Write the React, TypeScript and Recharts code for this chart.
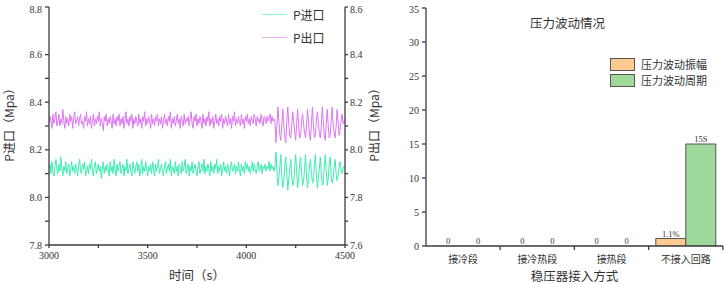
import React from 'react';
import { LineChart, Line, XAxis, YAxis, Legend, BarChart, Bar, Cell, LabelList, Label } from 'recharts';

const SERIF = "'Liberation Serif', 'Noto Sans CJK SC', serif";
const CJK = "'Noto Sans CJK SC', sans-serif";
const AXIS = '#3c3c3c';

// 压力曲线：3000 s 起，每 5 s 一个点
const T_START = 3000;
const T_STEP = 5;

const pIn = [
  8.12, 8.14, 8.10, 8.15, 8.11, 8.09, 8.13, 8.16, 8.12, 8.10,
  8.14, 8.11, 8.17, 8.12, 8.09, 8.13, 8.11, 8.15, 8.10, 8.12,
  8.14, 8.09, 8.12, 8.15, 8.11, 8.13, 8.10, 8.14, 8.12, 8.09,
  8.13, 8.16, 8.11, 8.10, 8.14, 8.12, 8.15, 8.09, 8.11, 8.13,
  8.10, 8.14, 8.12, 8.16, 8.11, 8.09, 8.13, 8.15, 8.10, 8.12,
  8.14, 8.11, 8.13, 8.08, 8.12, 8.15, 8.10, 8.13, 8.11, 8.14,
  8.12, 8.09, 8.15, 8.11, 8.13, 8.10, 8.16, 8.12, 8.09, 8.14,
  8.11, 8.13, 8.15, 8.10, 8.12, 8.14, 8.09, 8.13, 8.11, 8.16,
  8.10, 8.12, 8.14, 8.11, 8.09, 8.15, 8.12, 8.10, 8.13, 8.15,
  8.11, 8.14, 8.09, 8.12, 8.16, 8.10, 8.13, 8.11, 8.15, 8.12,
  8.09, 8.13, 8.11, 8.14, 8.10, 8.15, 8.12, 8.09, 8.14, 8.11,
  8.13, 8.16, 8.10, 8.12, 8.14, 8.11, 8.09, 8.13, 8.15, 8.10,
  8.12, 8.14, 8.11, 8.16, 8.09, 8.13, 8.12, 8.10, 8.15, 8.11,
  8.13, 8.09, 8.14, 8.12, 8.10, 8.15, 8.11, 8.13, 8.16, 8.10,
  8.12, 8.14, 8.09, 8.13, 8.11, 8.15, 8.10, 8.12, 8.14, 8.11,
  8.09, 8.13, 8.15, 8.10, 8.12, 8.14, 8.11, 8.16, 8.10, 8.13,
  8.11, 8.14, 8.12, 8.09, 8.15, 8.11, 8.13, 8.10, 8.14, 8.12,
  8.16, 8.10, 8.13, 8.11, 8.14, 8.09, 8.12, 8.15, 8.11, 8.13,
  8.10, 8.14, 8.12, 8.09, 8.13, 8.15, 8.11, 8.12, 8.14, 8.10,
  8.13, 8.11, 8.15, 8.12, 8.09, 8.14, 8.11, 8.13, 8.10, 8.15,
  8.12, 8.14, 8.11, 8.13, 8.10, 8.12, 8.15, 8.11, 8.14, 8.12,
  8.10, 8.13, 8.15, 8.11, 8.12, 8.14, 8.10, 8.13, 8.12, 8.14,
  8.11, 8.13, 8.12, 8.15, 8.11, 8.14, 8.12, 8.13, 8.11, 8.13,
  // 4150 s 之后波动变大
  8.19, 8.11, 8.05, 8.08, 8.13,
  8.18, 8.09, 8.04, 8.07, 8.14,
  8.17, 8.10, 8.03, 8.08, 8.12,
  8.16, 8.09, 8.05, 8.06, 8.13,
  8.18, 8.11, 8.04, 8.08, 8.14,
  8.17, 8.10, 8.05, 8.07, 8.12,
  8.18, 8.09, 8.04, 8.08, 8.13,
  8.16, 8.10, 8.06, 8.07, 8.14,
  8.18, 8.09, 8.04, 8.08, 8.12,
  8.17, 8.10, 8.05, 8.06, 8.13,
  8.18, 8.11, 8.05, 8.08, 8.14,
  8.17, 8.09, 8.06, 8.08, 8.13,
  8.16, 8.10, 8.07, 8.09, 8.13,
  8.15, 8.11, 8.10, 8.12, 8.13,
  8.12,
];

// P出口 读右轴
const pOut = [
  8.11, 8.14, 8.12, 8.09, 8.15, 8.11, 8.13, 8.16, 8.10, 8.12,
  8.15, 8.10, 8.13, 8.11, 8.17, 8.12, 8.09, 8.14, 8.11, 8.13,
  8.10, 8.15, 8.12, 8.14, 8.09, 8.13, 8.16, 8.11, 8.12, 8.14,
  8.10, 8.13, 8.15, 8.11, 8.12, 8.09, 8.14, 8.12, 8.16, 8.10,
  8.13, 8.11, 8.14, 8.09, 8.12, 8.15, 8.10, 8.13, 8.11, 8.14,
  8.12, 8.16, 8.10, 8.13, 8.11, 8.08, 8.14, 8.12, 8.15, 8.10,
  8.13, 8.11, 8.14, 8.12, 8.09, 8.15, 8.11, 8.13, 8.10, 8.14,
  8.12, 8.15, 8.10, 8.13, 8.11, 8.14, 8.09, 8.12, 8.16, 8.11,
  8.13, 8.10, 8.14, 8.12, 8.15, 8.09, 8.13, 8.11, 8.14, 8.12,
  8.10, 8.15, 8.11, 8.13, 8.09, 8.14, 8.12, 8.16, 8.10, 8.13,
  8.11, 8.14, 8.12, 8.09, 8.15, 8.11, 8.13, 8.10, 8.14, 8.12,
  8.15, 8.10, 8.13, 8.11, 8.14, 8.09, 8.12, 8.15, 8.11, 8.13,
  8.10, 8.14, 8.12, 8.16, 8.09, 8.13, 8.11, 8.14, 8.10, 8.12,
  8.15, 8.11, 8.13, 8.09, 8.14, 8.12, 8.10, 8.15, 8.11, 8.13,
  8.12, 8.14, 8.10, 8.13, 8.16, 8.11, 8.09, 8.14, 8.12, 8.15,
  8.10, 8.13, 8.11, 8.14, 8.12, 8.09, 8.15, 8.11, 8.13, 8.10,
  8.14, 8.12, 8.16, 8.10, 8.13, 8.11, 8.14, 8.09, 8.12, 8.15,
  8.11, 8.13, 8.10, 8.14, 8.12, 8.15, 8.09, 8.13, 8.11, 8.14,
  8.12, 8.10, 8.15, 8.11, 8.13, 8.09, 8.14, 8.12, 8.16, 8.10,
  8.13, 8.11, 8.14, 8.12, 8.10, 8.15, 8.11, 8.13, 8.09, 8.14,
  8.12, 8.15, 8.11, 8.13, 8.10, 8.14, 8.12, 8.11, 8.15, 8.13,
  8.10, 8.14, 8.12, 8.13, 8.11, 8.15, 8.12, 8.10, 8.14, 8.13,
  8.11, 8.14, 8.12, 8.13, 8.15, 8.11, 8.14, 8.12, 8.13, 8.12,
  // 4150 s 之后
  8.03, 8.10, 8.18, 8.12, 8.06,
  8.04, 8.11, 8.17, 8.10, 8.05,
  8.03, 8.12, 8.18, 8.11, 8.06,
  8.05, 8.10, 8.16, 8.12, 8.07,
  8.04, 8.11, 8.17, 8.10, 8.05,
  8.06, 8.12, 8.15, 8.11, 8.07,
  8.05, 8.10, 8.17, 8.12, 8.06,
  8.04, 8.11, 8.18, 8.10, 8.05,
  8.06, 8.12, 8.16, 8.11, 8.07,
  8.05, 8.10, 8.18, 8.12, 8.06,
  8.04, 8.11, 8.17, 8.10, 8.05,
  8.06, 8.12, 8.18, 8.11, 8.07,
  8.05, 8.10, 8.17, 8.12, 8.06,
  8.08, 8.12, 8.15, 8.11, 8.12,
  8.13,
];

const timeTicks = [3000, 3250, 3500, 3750, 4000, 4250, 4500];
const leftTicks = [7.8, 7.9, 8.0, 8.1, 8.2, 8.3, 8.4, 8.5, 8.6, 8.7, 8.8];
const rightTicks = [7.6, 7.7, 7.8, 7.9, 8.0, 8.1, 8.2, 8.3, 8.4, 8.5, 8.6];

// 柱状图
const categories = ['接冷段', '接冷热段', '接热段', '不接入回路'];
const amplitude = [0, 0, 0, 1.1];
const period = [0, 0, 0, 15];
const amplitudeLabels = ['0', '0', '0', '1.1%'];
const periodLabels = ['0', '0', '0', '15S'];
const barTicks = [0, 2.5, 5, 7.5, 10, 12.5, 15, 17.5, 20, 22.5, 25, 27.5, 30, 32.5, 35];

const lineData = pIn.map((v, i) => ({ t: T_START + i * T_STEP, pIn: v, pOut: pOut[i] }));
const barData = categories.map((name, i) => ({
  name,
  amp: amplitude[i],
  per: period[i],
  ampLabel: amplitudeLabels[i],
  perLabel: periodLabels[i],
}));

const evenTenth = (v: number) => Math.round(v * 10) % 2 === 0;

const yTick = (anchor: 'start' | 'end', isMajor: (v: number) => boolean, fmt: (v: number) => string) =>
  (props: any) => {
    const { x, y, payload } = props;
    if (!isMajor(payload.value)) return <g />;
    return (
      <text x={x} y={y} dy={3.5} textAnchor={anchor} fontSize={10} fill="#333" fontFamily={SERIF}>
        {fmt(payload.value)}
      </text>
    );
  };

const timeTick = (props: any) => {
  const { x, y, payload } = props;
  if (payload.value % 500 !== 0) return <g />;
  return (
    <text x={x} y={y} dy={9} textAnchor="middle" fontSize={10} fill="#333" fontFamily={SERIF}>
      {payload.value}
    </text>
  );
};

const catTick = (props: any) => {
  const { x, y, payload } = props;
  return (
    <g>
      <line x1={x + 37} y1={y - 4} x2={x + 37} y2={y} stroke={AXIS} strokeWidth={1.3} />
      <text x={x} y={y} dy={12.5} textAnchor="middle" fontSize={10} fill="#333" fontFamily={CJK}>
        {payload.value}
      </text>
    </g>
  );
};

const vTitle = (text: string, dx: number) => (props: any) => {
  const vb = props.viewBox;
  const x = vb.x + dx;
  const y = vb.y + vb.height / 2 - 4;
  return (
    <text x={x} y={y} transform={`rotate(-90 ${x} ${y})`} textAnchor="middle" dominantBaseline="central"
      fontSize={12} fill="#333" fontFamily={CJK}>
      {text}
    </text>
  );
};

const hTitle = (text: string, dy: number) => (props: any) => {
  const vb = props.viewBox;
  return (
    <text x={vb.x + vb.width / 2} y={vb.y + dy} textAnchor="middle" dominantBaseline="central"
      fontSize={12.5} fill="#333" fontFamily={CJK}>
      {text}
    </text>
  );
};

function LineLegend({ payload }: any) {
  return (
    <div>
      {(payload || []).map((p: any) => (
        <div key={p.value} style={{ display: 'flex', alignItems: 'center', height: 23 }}>
          <div style={{ width: 25, height: 1.5, background: p.color, opacity: 0.6 }} />
          <span style={{ marginLeft: 6, fontSize: 12, color: '#333', fontFamily: CJK }}>{p.value}</span>
        </div>
      ))}
    </div>
  );
}

function BarLegend({ payload }: any) {
  return (
    <div>
      {(payload || []).map((p: any) => (
        <div key={p.value} style={{ display: 'flex', alignItems: 'center', height: 16 }}>
          <div style={{ width: 23, height: 11, background: p.color, border: '1px solid #555' }} />
          <span style={{ marginLeft: 6, fontSize: 11, color: '#333', fontFamily: CJK, lineHeight: '13px' }}>{p.value}</span>
        </div>
      ))}
    </div>
  );
}

export default function App() {
  return (
    <div style={{ position: 'fixed', left: 0, top: 0, width: 726, height: 284, background: '#fff', overflow: 'hidden' }}>
      <div style={{ position: 'absolute', left: 0, top: 0 }}>
        <LineChart width={390} height={284} data={lineData} margin={{ top: 7, right: 0, bottom: 0, left: 0 }}>
          <XAxis dataKey="t" type="number" domain={[3000, 4500]} ticks={timeTicks} tick={timeTick}
            height={39} tickSize={3} tickMargin={2} stroke={AXIS} strokeWidth={1.3} allowDataOverflow>
            <Label content={hTitle('时间（s）', 29)} />
          </XAxis>
          <YAxis yAxisId="left" orientation="left" domain={[7.8, 8.8]} ticks={leftTicks} width={49}
            tick={yTick('end', evenTenth, (v) => v.toFixed(1))} tickSize={4} tickMargin={3}
            stroke={AXIS} strokeWidth={1.3} allowDataOverflow>
            <Label content={vTitle('P进口（Mpa）', 8)} />
          </YAxis>
          <YAxis yAxisId="right" orientation="right" domain={[7.6, 8.6]} ticks={rightTicks} width={45}
            tick={yTick('start', evenTenth, (v) => v.toFixed(1))} tickSize={3} tickMargin={2}
            stroke={AXIS} strokeWidth={1.3} allowDataOverflow>
            <Label content={vTitle('P出口（Mpa）', 28)} />
          </YAxis>
          <Legend layout="vertical" align="center" verticalAlign="middle" content={LineLegend} itemSorter="dataKey"
            wrapperStyle={{ top: 3, left: 262, width: 90, height: 46 }} />
          <Line yAxisId="left" dataKey="pIn" name="P进口" stroke="#3DEDB2" strokeWidth={1} dot={false}
            isAnimationActive={false} />
          <Line yAxisId="right" dataKey="pOut" name="P出口" stroke="#DE76F4" strokeWidth={1} dot={false}
            isAnimationActive={false} />
        </LineChart>
      </div>

      <div style={{ position: 'absolute', left: 395, top: 0 }}>
        <BarChart width={331} height={284} data={barData} margin={{ top: 8, right: 3, bottom: 0, left: 0 }}
          barCategoryGap="9.5%" barGap={0}>
          <XAxis dataKey="name" tick={catTick} tickLine={false} tickSize={4} tickMargin={0} height={38}
            stroke={AXIS} strokeWidth={1.3}>
            <Label content={hTitle('稳压器接入方式', 29)} />
          </XAxis>
          <YAxis domain={[0, 35]} ticks={barTicks} width={31} tickSize={4} tickMargin={3}
            tick={yTick('end', (v) => v % 5 === 0, (v) => String(v))} stroke={AXIS} strokeWidth={1.3}
            allowDataOverflow />
          <Legend layout="vertical" align="center" verticalAlign="middle" content={BarLegend} itemSorter="dataKey"
            wrapperStyle={{ top: 56, left: 215, width: 116, height: 32 }} />
          <Bar dataKey="amp" name="压力波动振幅" fill="#FFC98F" stroke="#555" strokeWidth={1} minPointSize={0.5}
            isAnimationActive={false}>
            {amplitude.map((v, i) => (
              <Cell key={i} stroke={v === 0 ? 'none' : '#555'} />
            ))}
            <LabelList dataKey="ampLabel" position="top" offset={2} fontSize={8.5} fill="#333" fontFamily={SERIF} />
          </Bar>
          <Bar dataKey="per" name="压力波动周期" fill="#9ED99B" stroke="#555" strokeWidth={1} minPointSize={0.5}
            isAnimationActive={false}>
            {period.map((v, i) => (
              <Cell key={i} stroke={v === 0 ? 'none' : '#555'} />
            ))}
            <LabelList dataKey="perLabel" position="top" offset={2} fontSize={8.5} fill="#333" fontFamily={SERIF} />
          </Bar>
        </BarChart>
        <div style={{ position: 'absolute', left: 135, top: 15, fontSize: 12.5, color: '#333', fontFamily: CJK, lineHeight: '16px' }}>
          压力波动情况
        </div>
      </div>
    </div>
  );
}
